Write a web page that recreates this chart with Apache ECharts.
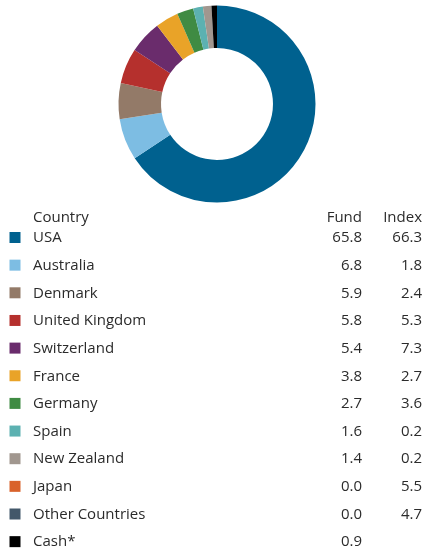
<!DOCTYPE html>
<html>
<head>
<meta charset="utf-8">
<script src="https://cdn.jsdelivr.net/npm/echarts@6/dist/echarts.min.js"></script>
<style>
  html, body { margin: 0; padding: 0; background: #fff; }
  #chart { width: 424px; height: 553px; }
</style>
</head>
<body>
<div id="chart"></div>
<script>
// Country allocation: fund weights vs index weights (%)
const countries = ['USA', 'Australia', 'Denmark', 'United Kingdom', 'Switzerland', 'France',
  'Germany', 'Spain', 'New Zealand', 'Japan', 'Other Countries', 'Cash*'];
const fundValues = [65.8, 6.8, 5.9, 5.8, 5.4, 3.8, 2.7, 1.6, 1.4, 0.0, 0.0, 0.9];
const indexValues = [66.3, 1.8, 2.4, 5.3, 7.3, 2.7, 3.6, 0.2, 0.2, 5.5, 4.7, null];
const colors = ['#00618f', '#7dbde3', '#937a68', '#b5302d', '#6a2c6c', '#e9a328',
  '#3f8b43', '#5cb1b1', '#a1978f', '#d9622b', '#43586a', '#000000'];
const headers = ['Country', 'Fund', 'Index'];

const FONT = '"Open Sans", Lato, sans-serif';
const TEXT_COLOR = '#2b2b2b';
const ROW_TOP = 238;
const ROW_STEP = 27.65;
const HEADER_Y = 218;
const FUND_RIGHT = 362;
const INDEX_RIGHT = 422;

const graphics = [];
function txt(x, y, s, align) {
  graphics.push({
    type: 'text', x: x, y: y, silent: true,
    style: { text: s, fill: TEXT_COLOR, font: '15px ' + FONT, textAlign: align, textVerticalAlign: 'middle' }
  });
}
txt(33, HEADER_Y, headers[0], 'left');
txt(FUND_RIGHT, HEADER_Y, headers[1], 'right');
txt(INDEX_RIGHT, HEADER_Y, headers[2], 'right');

countries.forEach(function (name, i) {
  const y = ROW_TOP + i * ROW_STEP;
  graphics.push({
    type: 'rect', silent: true,
    shape: { x: 9.5, y: y - 6, width: 11, height: 11 },
    style: { fill: colors[i] }
  });
  txt(33, y, name, 'left');
  txt(FUND_RIGHT, y, fundValues[i].toFixed(1), 'right');
  if (indexValues[i] !== null) txt(INDEX_RIGHT, y, indexValues[i].toFixed(1), 'right');
});

const chart = echarts.init(document.getElementById('chart'), null, { renderer: 'canvas' });
chart.setOption({
  animation: false,
  backgroundColor: '#ffffff',
  color: colors,
  series: [{
    type: 'pie',
    center: [217, 104],
    radius: [56, 98.5],
    startAngle: 90,
    clockwise: true,
    silent: true,
    label: { show: false },
    labelLine: { show: false },
    itemStyle: { borderWidth: 0 },
    data: countries.map(function (name, i) { return { name: name, value: fundValues[i] }; })
  }],
  graphic: graphics
});
</script>
</body>
</html>
